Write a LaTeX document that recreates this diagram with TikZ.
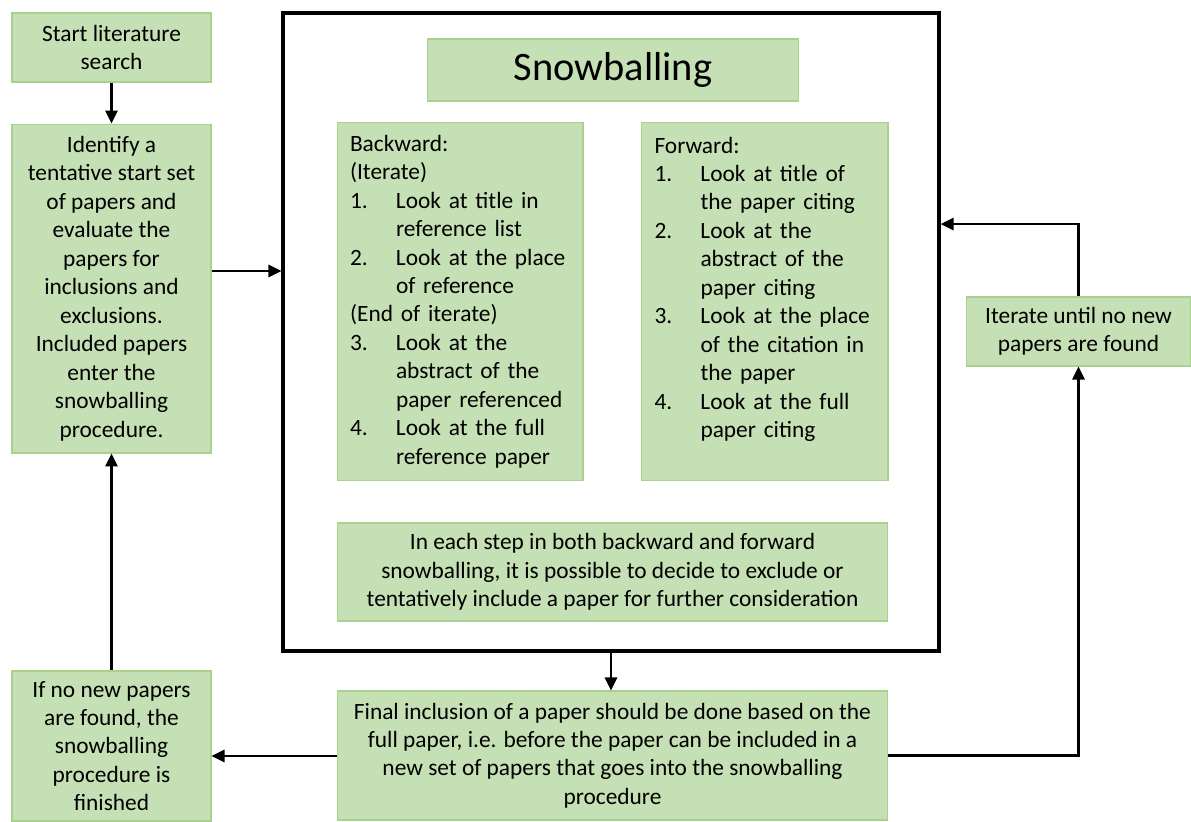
\documentclass[tikz,border=0pt]{standalone}
\usepackage{fontspec}
\setmainfont{Carlito}
\usetikzlibrary{arrows.meta}

\definecolor{boxfill}{HTML}{C5E0B4}
\definecolor{boxline}{HTML}{A9D18E}

\newcommand{\itm}[2]{\makebox[0.92cm][l]{#1}#2}
\newcommand{\cnt}[1]{\hspace*{0.92cm}#1}

\begin{document}
\begin{tikzpicture}[x=0.02cm, y=-0.02cm,
		b/.style={draw=boxline, fill=boxfill, line width=0.6pt, align=center, inner sep=0pt,
			font=\fontsize{13.3}{16.2}\selectfont},
		lst/.style={b, align=left, text width=4.4cm},
		arr/.style={-{Triangle[length=2.6mm, width=2.4mm]}, line width=1.5pt}]
		\useasboundingbox (0,0) rectangle (1191,822);

		\node[b, minimum width=3.98cm, minimum height=1.38cm] (start) at (111.5,47.5) {Start literature\\search};
		\node[b, minimum width=3.98cm, minimum height=6.58cm] (ident) at (111.5,288.5) {Identify a\\tentative start set\\of papers and\\evaluate the\\papers for\\inclusions and\\exclusions.\\Included papers\\enter the\\snowballing\\procedure.};
		\node[b, minimum width=3.98cm, minimum height=3.0cm] (nonew) at (111.5,746) {If no new papers\\are found, the\\snowballing\\procedure is\\finished};

		\node[draw, line width=1.8pt, minimum width=13.12cm, minimum height=12.76cm] (frame) at (611,332) {};
		\node[b, minimum width=7.44cm, minimum height=1.24cm, font=\fontsize{23}{27}\selectfont] (title) at (613,70) {Snowballing};
		\node[lst, minimum width=4.92cm, minimum height=7.18cm] (back) at (460,301.5) {Backward:\\(Iterate)\\\itm{1.}{Look at title in}\\\cnt{reference list}\\\itm{2.}{Look at the place}\\\cnt{of reference}\\(End of iterate)\\\itm{3.}{Look at the}\\\cnt{abstract of the}\\\cnt{paper referenced}\\\itm{4.}{Look at the full}\\\cnt{reference paper}};
		\node[lst, minimum width=4.94cm, minimum height=7.18cm] (fwd) at (764.5,301.5) {Forward:\\\itm{1.}{Look at title of}\\\cnt{the paper citing}\\\itm{2.}{Look at the}\\\cnt{abstract of the}\\\cnt{paper citing}\\\itm{3.}{Look at the place}\\\cnt{of the citation in}\\\cnt{the paper}\\\itm{4.}{Look at the full}\\\cnt{paper citing}\\\mbox{}};
		\node[b, minimum width=11.02cm, minimum height=1.96cm] (note) at (612.5,572) {In each step in both backward and forward\\snowballing, it is possible to decide to exclude or\\tentatively include a paper for further consideration};

		\node[b, minimum width=11.02cm, minimum height=2.58cm] (final) at (612.5,755.5) {Final inclusion of a paper should be done based on the\\full paper, i.e. before the paper can be included in a\\new set of papers that goes into the snowballing\\procedure};
		\node[b, minimum width=4.5cm, minimum height=1.38cm] (iter) at (1078.5,331.5) {Iterate until no new\\papers are found};

		\draw[arr] (start) -- (ident);
		\draw[arr] ([yshift=3.5mm]ident.east) coordinate (a1) -- (a1 -| frame.west);
		\draw[arr] (nonew) -- (ident);
		\draw[arr] (frame.south) -- (frame.south |- final.north);
		\draw[arr] ([yshift=-0.1mm]final.west) coordinate (a2) -- (a2 -| nonew.east);
		\draw[arr] (final.east) -| (iter.south);
		\draw[arr] (iter.north) |- ([yshift=2.16cm]frame.east);
	\end{tikzpicture}
\end{document}
